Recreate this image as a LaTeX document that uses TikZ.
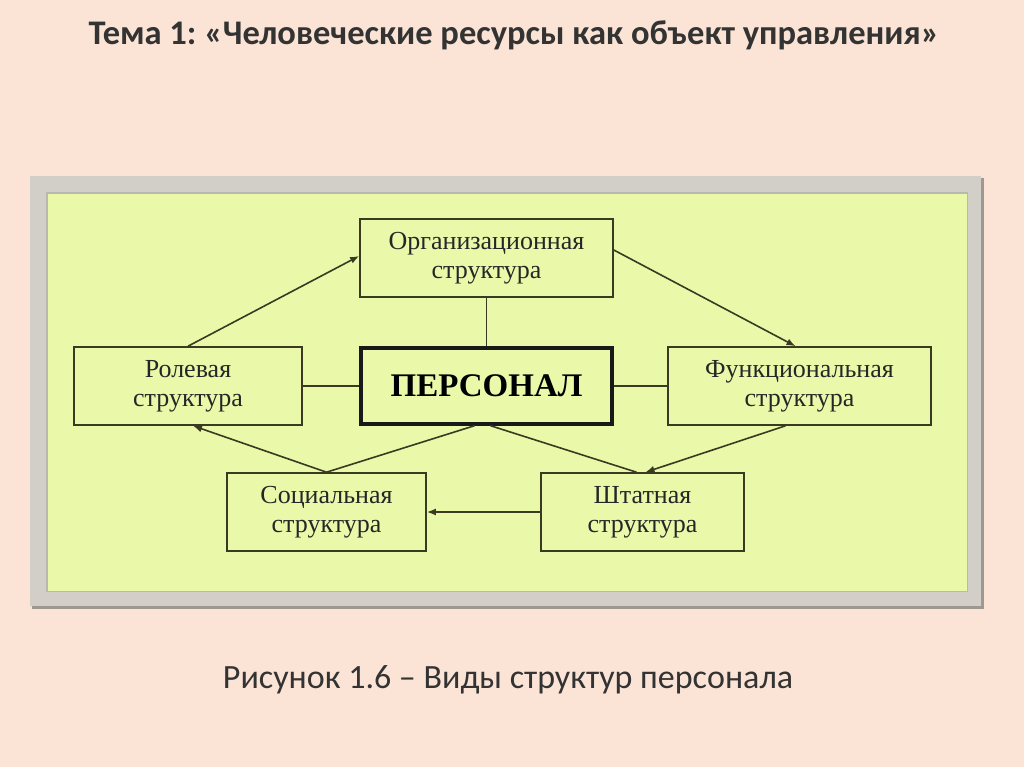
\documentclass[tikz,border=0pt]{standalone}
\usepackage{fontspec}
\setmainfont{Liberation Serif}
\newfontfamily\slidefont{Carlito}
\usetikzlibrary{arrows.meta}

\definecolor{peach}{HTML}{FBE4D5}
\definecolor{framegray}{HTML}{D2CEC8}
\definecolor{frameshade}{HTML}{9E9890}
\definecolor{panelgreen}{HTML}{EAF8AA}
\definecolor{inkline}{HTML}{3A3A22}
\definecolor{titleink}{HTML}{333333}

\begin{document}
\frenchspacing
\begin{tikzpicture}[x=1pt,y=-1pt,
            struct/.style={draw=inkline, line width=1.6pt, rectangle, align=center,
            minimum height=78pt, font=\fontsize{26}{29}\selectfont, text=black!85},
            core/.style={draw=black!90, line width=3.4pt, rectangle, minimum width=251pt,
            minimum height=76pt, font=\fontsize{33}{38}\selectfont\bfseries},
            link/.style={draw=inkline, line width=1.6pt},
            flow/.style={link, -{Latex[length=9pt,width=7pt]}}]
        \useasboundingbox (0,0) rectangle (1024,767);
        \fill[peach] (0,0) rectangle (1024,767);

        % panel
        \fill[frameshade] (32,178) rectangle (984,609);
        \fill[framegray] (30,176) rectangle (981,606);
        \fill[frameshade!70] (46,192) rectangle (968,592);
        \fill[panelgreen] (48,194) rectangle (967,591);

        \node[text=titleink, font=\slidefont\fontsize{34.5}{37}\selectfont\bfseries] (title) at (514,35)
            {Тема 1: «Человеческие ресурсы как объект управления»};

        \node[struct, minimum width=253pt] (org) at (486.5,258) {Организационная\\структура};
        \node[core] (pers) at (486.5,386) {ПЕРСОНАЛ};
        \node[struct, minimum width=228pt] (role) at (188,386) {Ролевая\\структура};
        \node[struct, minimum width=263pt] (func) at (799.5,386) {Функциональная\\структура};
        \node[struct, minimum width=199pt] (soc) at (326.5,512) {Социальная\\структура};
        \node[struct, minimum width=203pt] (shtat) at (642.5,512) {Штатная\\структура};

        \node[text=titleink, font=\slidefont\fontsize{34}{38}\selectfont] (caption) at (508,680)
            {Рисунок 1.6 – Виды структур персонала};

        \draw[link] (org) -- (pers);
        \draw[link] (role) -- (pers);
        \draw[link] (pers) -- (func);
        \draw[link] ([xshift=-12pt]pers.south) -- (soc.north);
        \draw[link] ([xshift=4pt]pers.south) -- ([xshift=-6pt]shtat.north);
        \draw[flow] (role.north) -- ([yshift=2pt]org.west);
        \draw[flow] ([yshift=8pt]org.east) -- ([xshift=-4pt]func.north);
        \draw[flow] ([xshift=-14pt]func.south) -- ([xshift=3pt]shtat.north);
        \draw[flow] (shtat) -- (soc);
        \draw[flow] (soc.north) -- ([xshift=5pt]role.south);
    \end{tikzpicture}
\end{document}
